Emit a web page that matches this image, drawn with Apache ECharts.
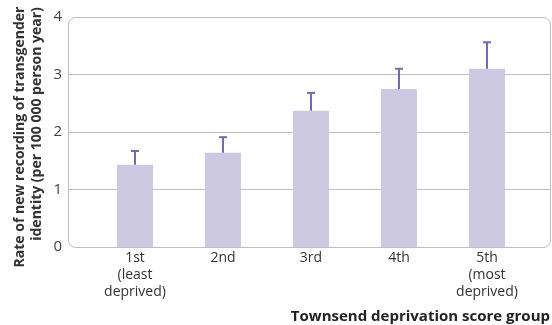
<!DOCTYPE html>
<html>
<head>
<meta charset="utf-8">
<script src="https://cdn.jsdelivr.net/npm/echarts@6/dist/echarts.min.js"></script>
<style>
  html, body { margin: 0; padding: 0; background: #fff; }
  #chart { width: 552px; height: 325px; }
</style>
</head>
<body>
<div id="chart"></div>
<script>
// Deprivation groups (Townsend score quintiles)
const categories = ['1st\n(least\ndeprived)', '2nd', '3rd', '4th', '5th\n(most\ndeprived)'];
// Rate of new recording per 100 000 person years
const rates = [1.43, 1.64, 2.37, 2.75, 3.10];
// Upper 95% confidence limit
const upperCI = [1.67, 1.91, 2.68, 3.10, 3.56];
// Value axis ticks
const yTicks = [0, 1, 2, 3, 4];

const FONT = '"Open Sans", "Noto Sans", sans-serif';
const BAR_COLOR = '#cdc9e3';
const ERR_COLOR = '#7467b5';

// layout of the framed plot area
const frame = { left: 68, top: 17, right: 550, bottom: 247 };
const W = 552, H = 325;

const chart = echarts.init(document.getElementById('chart'), null, { renderer: 'canvas' });

const errData = rates.map((v, i) => [i, v, upperCI[i]]);

chart.setOption({
  animation: false,
  backgroundColor: '#fff',
  textStyle: { fontFamily: FONT },
  grid: [
    // frame + horizontal gridlines
    { left: frame.left, right: W - frame.right, top: frame.top, bottom: H - frame.bottom },
    // bars, inset from the frame
    { left: 91, right: 21, top: frame.top, bottom: H - frame.bottom }
  ],
  xAxis: [
    { gridIndex: 0, type: 'value', show: false, min: 0, max: 1 },
    {
      gridIndex: 1, type: 'category', data: categories,
      axisLine: { show: false }, axisTick: { show: false },
      axisLabel: { fontFamily: FONT, fontSize: 14, lineHeight: 17, color: '#333', margin: 3, interval: 0 }
    }
  ],
  yAxis: [
    {
      gridIndex: 0, type: 'value', min: yTicks[0], max: yTicks[yTicks.length - 1], interval: 1,
      axisLine: { show: false }, axisTick: { show: false },
      axisLabel: { fontFamily: FONT, fontSize: 15, color: '#444', margin: 6 },
      splitLine: { show: true, showMinLine: false, showMaxLine: false, lineStyle: { color: '#bdbdbd', width: 1 } }
    },
    { gridIndex: 1, type: 'value', min: yTicks[0], max: yTicks[yTicks.length - 1], show: false }
  ],
  series: [
    {
      type: 'bar', xAxisIndex: 1, yAxisIndex: 1, data: rates,
      barWidth: 36, itemStyle: { color: BAR_COLOR }, z: 2
    },
    {
      type: 'custom', xAxisIndex: 1, yAxisIndex: 1, data: errData, z: 3,
      encode: { x: 0, y: [1, 2] },
      renderItem: function (params, api) {
        const i = api.value(0);
        const lo = api.coord([i, api.value(1)]);
        const hi = api.coord([i, api.value(2)]);
        const half = 4;
        const style = { stroke: ERR_COLOR, lineWidth: 2 };
        return {
          type: 'group',
          children: [
            { type: 'line', shape: { x1: lo[0], y1: lo[1], x2: hi[0], y2: hi[1] }, style: style },
            { type: 'line', shape: { x1: hi[0] - half, y1: hi[1], x2: hi[0] + half, y2: hi[1] }, style: style }
          ]
        };
      }
    }
  ],
  graphic: [
    {
      type: 'rect', z: 0, silent: true,
      shape: { x: frame.left + 0.5, y: frame.top + 0.5, width: frame.right - frame.left, height: frame.bottom - frame.top, r: 7 },
      style: { fill: 'none', stroke: '#bdbdbd', lineWidth: 1 }
    },
    {
      type: 'text', x: 20, y: 137, rotation: Math.PI / 2,
      style: { text: 'Rate of new recording of transgender', font: 'bold 14px ' + FONT, fill: '#333', align: 'center', verticalAlign: 'middle' }
    },
    {
      type: 'text', x: 37, y: 124, rotation: Math.PI / 2,
      style: { text: 'identity (per 100 000 person year)', font: 'bold 14px ' + FONT, fill: '#333', align: 'center', verticalAlign: 'middle' }
    },
    {
      type: 'text', x: 550, y: 317,
      style: { text: 'Townsend deprivation score group', font: 'bold 15px ' + FONT, fill: '#222', align: 'right', verticalAlign: 'middle' }
    }
  ]
});
</script>
</body>
</html>
